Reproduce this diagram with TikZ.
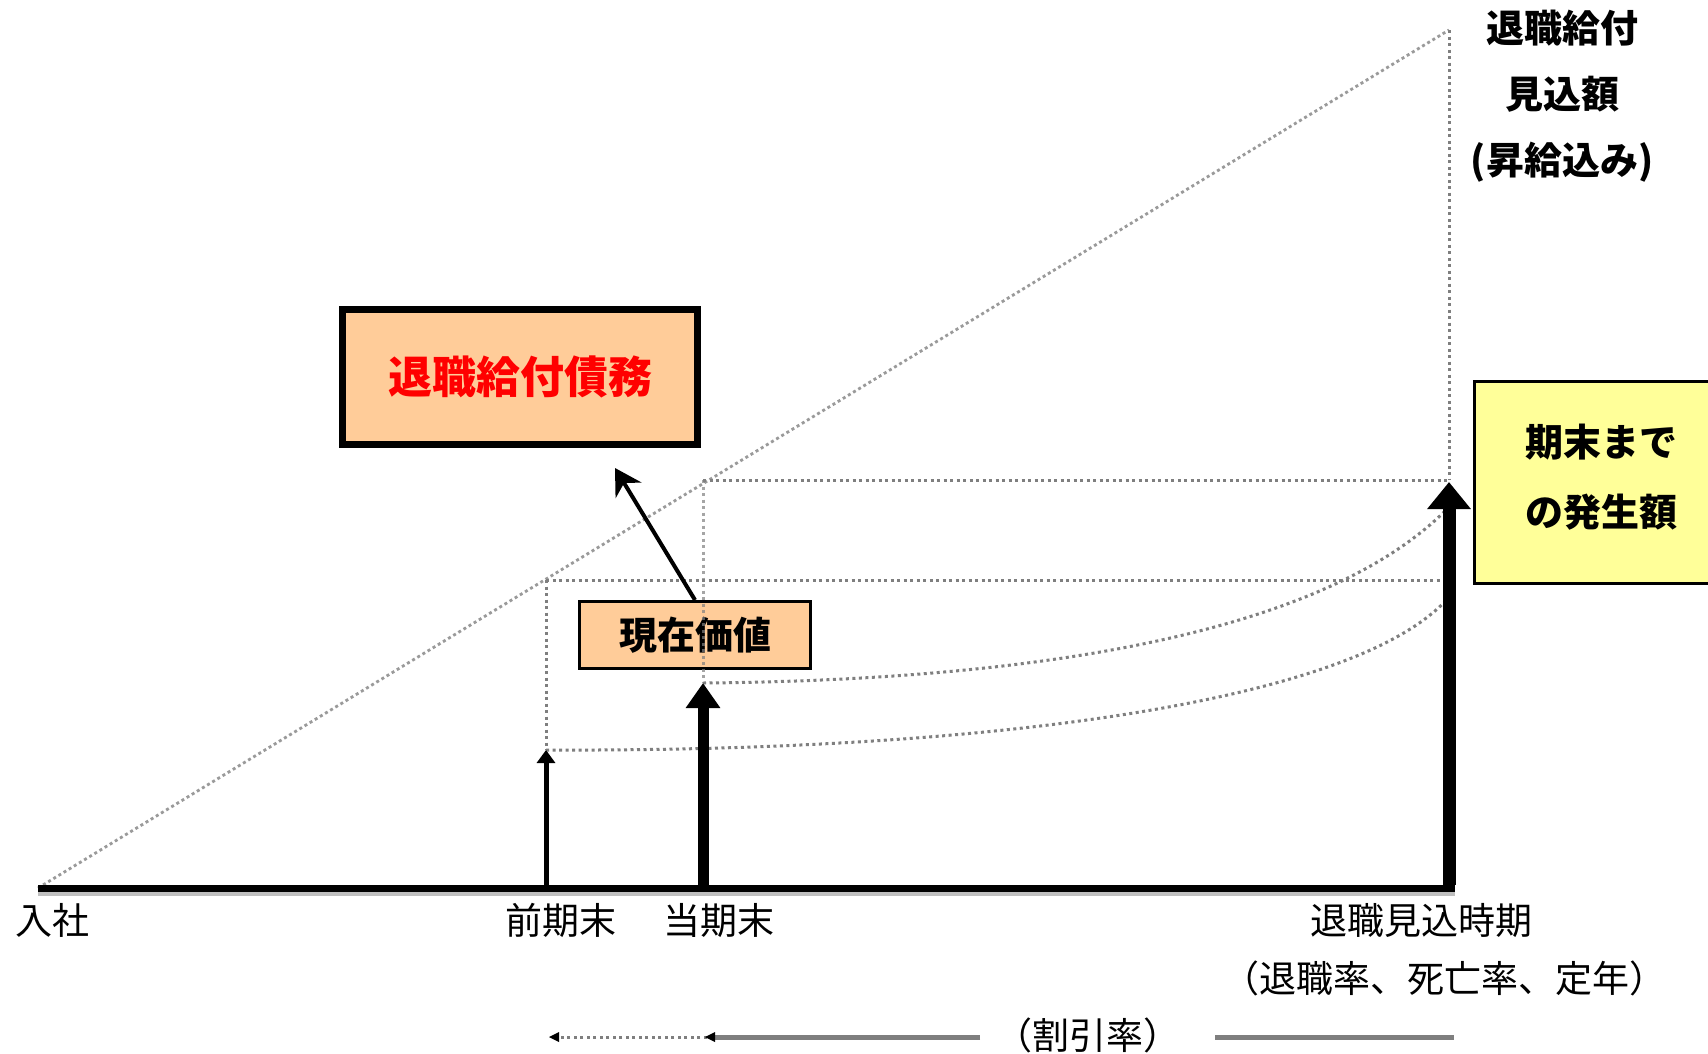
\documentclass[tikz,border=0pt]{standalone}
\usepackage{fontspec}
\setmainfont{Noto Sans CJK JP}
\usetikzlibrary{arrows.meta}
\definecolor{peach}{HTML}{FFCC99}
\definecolor{lyellow}{HTML}{FFFF99}
\definecolor{dotgray}{HTML}{7F7F7F}
\definecolor{diaggray}{HTML}{9A9A9A}
\begin{document}
\begin{tikzpicture}[x=1pt,y=-1pt,
  dotline/.style={draw=dotgray, line width=3pt, dash pattern=on 3pt off 3.5pt},
  diagline/.style={draw=diaggray, line width=2.8pt, dash pattern=on 3pt off 3pt},
  lbl/.style={font=\fontsize{37}{44}\selectfont, inner sep=0pt},
  blbl/.style={font=\bfseries\fontsize{38}{66}\selectfont, inner sep=0pt, align=center},
  boxpeach/.style={fill=peach, draw=black},
  uparrow/.style={draw=black}]
\useasboundingbox (0,0) rectangle (1708,1053);
\fill[white] (0,0) rectangle (1708,1053);

% key coordinates
\coordinate (axstart) at (38,888);
\coordinate (axend) at (1455,888);
\coordinate (top) at (1449,30);
\coordinate (pbase) at (546,885);
\coordinate (ptip) at (546,750);
\coordinate (cbase) at (703,885);
\coordinate (ctip) at (703,683);
\coordinate (rbase) at (1449,885);
\coordinate (rtip) at (1449,482);
\coordinate (pdiag) at (546,580);
\coordinate (cdiag) at (703,480);
\coordinate (rhigh) at (1449,480);
\coordinate (rmid) at (1449,580);
\coordinate (c1end) at (1449,507);
\coordinate (c2end) at (1449,597);
\coordinate (atip) at (615,468);

% dotted construction lines
\draw[diagline] (axstart) -- (top);
\draw[dotline] (top) -- (rhigh);
\draw[dotline] (cdiag) -- (rhigh);
\draw[dotline] (pdiag) -- (rmid);
\draw[dotline] (pdiag) -- (ptip);
\draw[dotline] (ctip) .. controls (1050,680) and (1330,630) .. (c1end);
\draw[dotline] (ptip) .. controls (1000,752) and (1360,700) .. (c2end);

% axis
\draw[gray!50, line width=4pt] (38,894) -- (1455,894);
\draw[black, line width=7pt] (axstart) -- (axend);

% vertical arrows
\draw[uparrow, line width=5pt, -{Triangle[length=13pt,width=18pt]}] (pbase) -- (ptip);
\draw[uparrow, line width=11pt, -{Triangle[length=25pt,width=33pt]}] (cbase) -- (ctip);
\draw[uparrow, line width=13pt, -{Triangle[length=27pt,width=42pt]}] (rbase) -- (rtip);

% boxes
\node[boxpeach, line width=7pt, minimum width=355pt, minimum height=135pt, inner sep=0pt,
      font=\bfseries\fontsize{44}{50}\selectfont, text=red] (pbo) at (520,377) {退職給付債務};
\node[boxpeach, line width=3pt, minimum width=231pt, minimum height=67pt, inner sep=0pt,
      font=\bfseries\fontsize{38}{44}\selectfont] (pv) at (695,635) {現在価値};
\draw[dotline, draw opacity=0.7] (cdiag) -- (ctip);
\draw[black, line width=4pt, -{Stealth[length=26pt,width=30pt]}] (pv.north) -- (atip);

\node[fill=lyellow, draw=black, line width=3pt, minimum width=255pt, minimum height=202pt,
      inner sep=0pt] (yb) at (1602,482.5) {};
\node[blbl, font=\bfseries\fontsize{38}{70}\selectfont] (ybt) at (1601,477) {期末まで\\の発生額};

% top-right label
\node[blbl] (est) at (1562,96) {退職給付\\見込額\\(昇給込み)};

% axis labels
\node[lbl] (l1) at (52,920) {入社};
\node[lbl] (l2) at (561,920) {前期末};
\node[lbl] (l3) at (719,920) {当期末};
\node[lbl] (l4) at (1421,920) {退職見込時期};
\node[lbl] (l5) at (1444,978) {（退職率、死亡率、定年）};
\node[lbl] (l6) at (1088,1035) {（割引率）};

% discount arrows
\coordinate (b1) at (980,1037);
\coordinate (b2) at (713,1037);
\coordinate (b3) at (553,1037);
\coordinate (b4) at (1215,1037);
\coordinate (b5) at (1454,1037);
\draw[dotgray, line width=5pt] (b1) -- (b2);
\draw[dotline] (b2) -- (b3);
\fill[black] (b2) ++(-8,0) -- ++(10,-5) -- ++(0,10) -- cycle;
\fill[black] (b3) ++(-4,0) -- ++(10,-5) -- ++(0,10) -- cycle;
\draw[dotgray, line width=5pt] (b4) -- (b5);
\end{tikzpicture}
\end{document}
